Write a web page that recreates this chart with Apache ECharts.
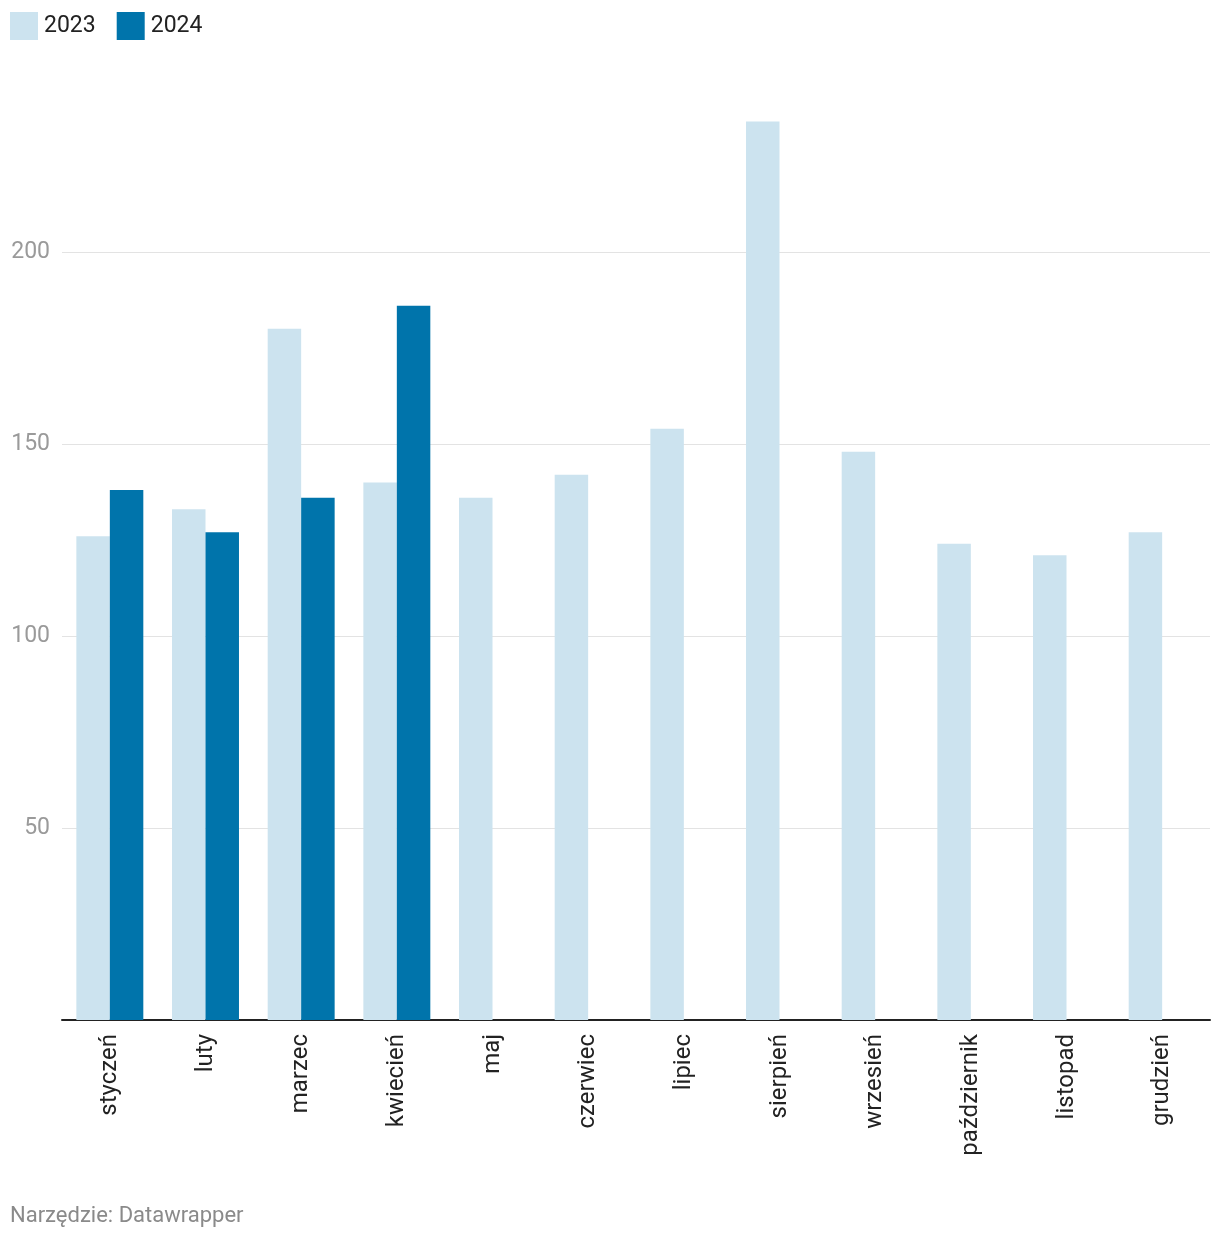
<!DOCTYPE html>
<html><head><meta charset="utf-8">
<script src="https://cdn.jsdelivr.net/npm/echarts@6/dist/echarts.min.js"></script>
<style>html,body{margin:0;padding:0;background:#fff}#c{width:1220px;height:1240px}</style>
</head><body><div id="c"></div>
<script>
const categories = ['styczeń','luty','marzec','kwiecień','maj','czerwiec','lipiec','sierpień','wrzesień','październik','listopad','grudzień'];
const values2023 = [126,133,180,140,136,142,154,234,148,124,121,127];
const values2024 = [138,127,136,186,null,null,null,null,null,null,null,null];
const seriesNames = ['2023','2024'];

const chart = echarts.init(document.getElementById('c'));
const font = 'Roboto, "Noto Sans", sans-serif';
chart.setOption({
  animation:false,
  textStyle:{fontFamily:font},
  legend:{left:10,top:12,padding:0,itemWidth:28,itemHeight:28,itemGap:21,icon:'rect',
    textStyle:{fontSize:23,color:'#222',fontFamily:font,padding:[4,0,0,1]},
    data:seriesNames},
  grid:{left:62,right:10,top:60,bottom:220,containLabel:false},
  xAxis:{type:'category',data:categories,
    axisLine:{lineStyle:{color:'#222',width:2}},
    axisTick:{show:false},
    axisLabel:{rotate:90,fontSize:24,color:'#222',margin:14,interval:0,fontFamily:font}},
  yAxis:{type:'value',min:0,max:250,interval:50,
    axisLine:{show:false},axisTick:{show:false},
    splitLine:{show:true,showMinLine:false,showMaxLine:false,lineStyle:{color:'#e3e3e3',width:1}},
    axisLabel:{showMinLabel:false,showMaxLabel:false,align:'right',margin:12,fontSize:23,color:'#9a9a9a',fontFamily:font,padding:[3,0,0,0]}},
  series:[
    {name:seriesNames[0],type:'bar',data:values2023,itemStyle:{color:'#cce3ef'},barGap:'0%',barCategoryGap:'30%'},
    {name:seriesNames[1],type:'bar',data:values2024,itemStyle:{color:'#0074ab'},barGap:'0%',barCategoryGap:'30%'}
  ],
  graphic:[{type:'text',left:10,top:1205,style:{text:'Narzędzie: Datawrapper',fontSize:22,fill:'#8a8a8a',fontFamily:font}}]
});
</script></body></html>
